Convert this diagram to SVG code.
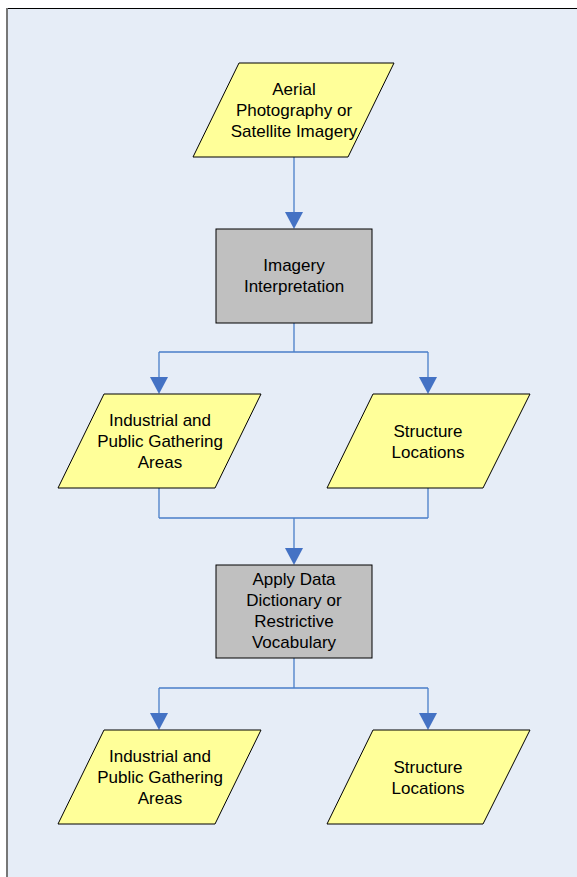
<svg xmlns="http://www.w3.org/2000/svg" width="577" height="877" viewBox="0 0 577 877">
<style>
.bg{fill:#E6EDF7}
.io{fill:#FFFF99;stroke:#000;stroke-width:1}
.proc{fill:#C0C0C0;stroke:#000;stroke-width:1}
.conn{fill:none;stroke:#4A7EC9;stroke-width:1.3}
.ah{fill:#4472C4}
text{font-family:"Liberation Sans",Arial,sans-serif;font-size:17px;fill:#000;text-anchor:middle}
</style>
<defs>
<path id="arrowhead" class="ah" d="M-9,-17 L9,-17 L0,0 Z"/>
</defs>
<rect x="0" y="0" width="577" height="877" fill="#fff"/>
<rect class="bg" x="7" y="8.5" width="570" height="868.5"/>
<line x1="7" y1="8.5" x2="577" y2="8.5" stroke="#000" stroke-width="1"/>
<line x1="7" y1="8" x2="7" y2="877" stroke="#777" stroke-width="2"/>

<g id="connectors">
<path class="conn" d="M294,157 V213"/>
<use href="#arrowhead" x="294" y="229"/>
<path class="conn" d="M294,323 V352 M159,352 H428 M159,352 V378 M428,352 V378"/>
<use href="#arrowhead" x="159" y="394"/>
<use href="#arrowhead" x="428" y="394"/>
<path class="conn" d="M159,488 V518 M428,488 V518 M159,518 H428 M294,518 V549"/>
<use href="#arrowhead" x="294" y="565"/>
<path class="conn" d="M294,658 V688 M159,688 H428 M159,688 V714 M428,688 V714"/>
<use href="#arrowhead" x="159" y="730"/>
<use href="#arrowhead" x="428" y="730"/>
</g>

<g id="aerial">
<polygon class="io" points="239,63 394,63 348,157 193,157"/>
<text x="294" y="95">Aerial</text>
<text x="294" y="116">Photography or</text>
<text x="294" y="137">Satellite Imagery</text>
</g>

<g id="interpretation">
<rect class="proc" x="216" y="229" width="156" height="94"/>
<text x="294" y="271">Imagery</text>
<text x="294" y="292">Interpretation</text>
</g>

<g id="industrial1">
<polygon class="io" points="104,394 261,394 215,488 58,488"/>
<text x="160" y="426">Industrial and</text>
<text x="160" y="447">Public Gathering</text>
<text x="160" y="468">Areas</text>
</g>

<g id="structure1">
<polygon class="io" points="373,394 530,394 483,488 327,488"/>
<text x="428" y="437">Structure</text>
<text x="428" y="458">Locations</text>
</g>

<g id="dictionary">
<rect class="proc" x="216" y="565" width="156" height="93"/>
<text x="294" y="585">Apply Data</text>
<text x="294" y="606">Dictionary or</text>
<text x="294" y="627">Restrictive</text>
<text x="294" y="648">Vocabulary</text>
</g>

<g id="industrial2">
<polygon class="io" points="104,730 261,730 215,824 58,824"/>
<text x="160" y="762">Industrial and</text>
<text x="160" y="783">Public Gathering</text>
<text x="160" y="804">Areas</text>
</g>

<g id="structure2">
<polygon class="io" points="373,730 530,730 483,824 327,824"/>
<text x="428" y="773">Structure</text>
<text x="428" y="794">Locations</text>
</g>
</svg>
